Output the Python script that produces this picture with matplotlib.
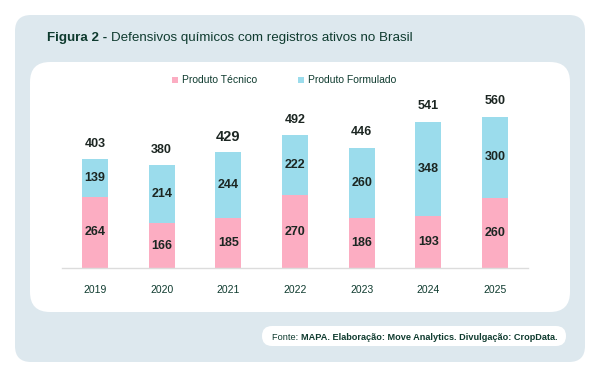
import matplotlib.pyplot as plt
from matplotlib.patches import FancyBboxPatch, Rectangle

anos = ["2019", "2020", "2021", "2022", "2023", "2024", "2025"]
tecnico = [264, 166, 185, 270, 186, 193, 260]
formulado = [139, 214, 244, 222, 260, 348, 300]
totais = [403, 380, 429, 492, 446, 541, 560]

rosa = "#fcadc2"
azul = "#9bdcec"
fundo = "#dde8ee"
verde = "#0f3b2f"
texto = "#1c2622"

W, H = 600, 374
fig = plt.figure(figsize=(W / 100, H / 100), dpi=100)
fig.patch.set_facecolor("white")

def px(x, y):
    # pixel coords (top-left origin) -> figure fraction
    return x / W, 1 - y / H

def caixa(x0, y0, x1, y1, cor, r):
    fx, fy = px(x0, y1)
    p = FancyBboxPatch((fx, fy), (x1 - x0) / W, (y1 - y0) / H,
                       boxstyle="round,pad=0,rounding_size=%f" % (r / W),
                       transform=fig.transFigure, facecolor=cor,
                       edgecolor="none", mutation_aspect=W / H, zorder=-5)
    fig.patches.append(p)

caixa(15, 15, 585, 362, fundo, 16)
caixa(30, 62, 570, 312, "white", 20)
caixa(262, 326, 566, 346, "white", 10)

# title
tx, ty = px(47, 38)
t1 = fig.text(tx, ty, "Figura 2 - ", fontsize=9.6, fontweight="bold", color=verde,
              va="center", family="Liberation Sans")
fig.canvas.draw()
bb = t1.get_window_extent()
fig.text(bb.x1 / W, ty, "Defensivos químicos com registros ativos no Brasil",
         fontsize=9.6, color=verde, va="center", family="Liberation Sans")

# footer
fx, fy = px(272, 337)
f1 = fig.text(fx, fy, "Fonte: ", fontsize=6.6, color=verde, va="center",
              family="Liberation Sans")
fig.canvas.draw()
bb = f1.get_window_extent()
fig.text(bb.x1 / W, fy, "MAPA. Elaboração: Move Analytics. Divulgação: CropData.",
         fontsize=6.6, fontweight="bold", color=verde, va="center",
         family="Liberation Sans")

# legend
for sx, lab, cor in [(172, "Produto Técnico", rosa), (298, "Produto Formulado", azul)]:
    lx, ly = px(sx, 83)
    fig.patches.append(Rectangle((lx, ly), 6 / W, 6 / H, transform=fig.transFigure,
                                 facecolor=cor, edgecolor="none"))
    tx, ty = px(sx + 10, 80)
    fig.text(tx, ty, lab, fontsize=7.5, color=verde, va="center", family="Liberation Sans")

# axes: baseline at y=268 px, x from 61.7 to 528.3 px
escala = 0.27  # px per unit
topo = 100
ax_l, ax_b = px(61.7, 268)
ax = fig.add_axes([ax_l, ax_b, (528.3 - 61.7) / W, (268 - topo) / H])
ax.set_zorder(5)
ax.set_facecolor("none")
ax.set_xlim(-0.5, 6.5)
ax.set_ylim(0, (268 - topo) / escala)

x = range(len(anos))
ax.bar(x, tecnico, width=0.39, color=rosa)
ax.bar(x, formulado, width=0.39, bottom=tecnico, color=azul)

for i in x:
    ax.text(i, tecnico[i] / 2, str(tecnico[i]), ha="center", va="center",
            fontsize=9, fontweight="bold", color=texto, family="Liberation Sans")
    ax.text(i, tecnico[i] + formulado[i] / 2, str(formulado[i]), ha="center",
            va="center", fontsize=9, fontweight="bold", color=texto,
            family="Liberation Sans")
    ax.text(i, totais[i] + 15.5 / escala, str(totais[i]), ha="center", va="center",
            fontsize=10.5 if anos[i] == "2021" else 9, fontweight="bold", color=texto,
            family="Liberation Sans", clip_on=False)

for s in ["top", "right", "left"]:
    ax.spines[s].set_visible(False)
ax.spines["bottom"].set_color("#dcdcdc")
ax.spines["bottom"].set_linewidth(1)
ax.set_yticks([])
ax.set_xticks(list(x))
ax.set_xticklabels(anos, fontsize=7.5, color=verde, family="Liberation Sans")
ax.tick_params(axis="x", length=0, pad=12)

fig.savefig("out.png", dpi=100, facecolor="white")
